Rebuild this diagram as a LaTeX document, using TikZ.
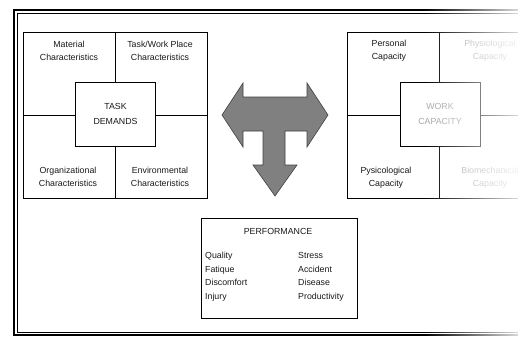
\documentclass[tikz,border=0pt]{standalone}
\usepackage{fontspec}
\setmainfont{Liberation Sans}
\usetikzlibrary{positioning,fadings}

\tikzset{
  quad/.style={draw, line width=0.8pt, minimum width=184pt, minimum height=166pt},
  core/.style={draw, fill=white, line width=0.8pt, minimum width=80pt, minimum height=64pt,
    align=center, font=\fontsize{8.8}{14.5}\selectfont},
  lbl/.style={align=center, font=\fontsize{8.8}{12.8}\selectfont},
  faded/.style={text=black!35},
  bigarrow/.style={fill=black!50, draw=black!75, line width=0.6pt},
}

\begin{document}
\begin{tikzpicture}[x=1pt, y=-1pt, text=black!90]
    \useasboundingbox (0,0) rectangle (518,340);
    \clip (0,0) rectangle (518,340);

    % outer frame
    \draw[line width=1.6pt] (14,10) rectangle (545,335);
    \draw[line width=0.4pt] (17,13) rectangle (542,332);

    % task demands side
    \node[quad] (taskbox) at (115,115) {};
    \draw[line width=0.8pt] (taskbox.north) -- (taskbox.south);
    \draw[line width=0.8pt] (taskbox.west) -- (taskbox.east);
    \node[core] (task) at (115.5,114) {TASK\\DEMANDS};

    \node[lbl] (material) at (69,51) {Material\\Characteristics};
    \node[lbl] (workplace) at (160,51) {Task/Work Place\\Characteristics};
    \node[lbl] (organ) at (68,177) {Organizational\\Characteristics};
    \node[lbl] (environ) at (160,177) {Environmental\\Characteristics};

    % work capacity side
    \node[quad] (capbox) at (439,115) {};
    \draw[line width=0.8pt] (capbox.north) -- (capbox.south);
    \draw[line width=0.8pt] (capbox.west) -- (capbox.east);
    \node[core, faded] (work) at (440,114) {WORK\\CAPACITY};

    \node[lbl] (personal) at (389,51) {Personal\\Capacity};
    \node[lbl] (psycho) at (386,178) {Pysicological\\Capacity};
    \node[lbl, faded] (physio) at (490,51) {Physiological\\Capacity};
    \node[lbl, faded] (biomech) at (490,178) {Biomechanical\\Capacity};

    % T-shaped arrow between the two sides
    \filldraw[bigarrow] (222,115) -- (243,83) -- (243,97) -- (307,97) -- (307,83)
        -- (328,115) -- (307,147) -- (307,131) -- (285,131) -- (285,165)
        -- (297,165) -- (275,196) -- (253,165) -- (263,165) -- (263,131)
        -- (243,131) -- (243,147) -- cycle;

    % performance outcomes
    \node[draw, line width=0.8pt, minimum width=156pt, minimum height=100pt] (perf) at (279,268) {};
    \node[font=\fontsize{8.8}{10}\selectfont] (perftitle) at (278,231) {PERFORMANCE};
    \node[anchor=north west, align=left, inner sep=0pt, font=\fontsize{8.8}{13.7}\selectfont]
        (perfleft) at (205,252) {Quality\\Fatique\\Discomfort\\Injury};
    \node[anchor=north west, align=left, inner sep=0pt, font=\fontsize{8.8}{13.7}\selectfont]
        (perfright) at (298,252) {Stress\\Accident\\Disease\\Productivity};

    % page curl fades the right edge
    \fill[white, fill opacity=0.85, path fading=west] (425,0) rectangle (518,340);
\end{tikzpicture}
\end{document}
